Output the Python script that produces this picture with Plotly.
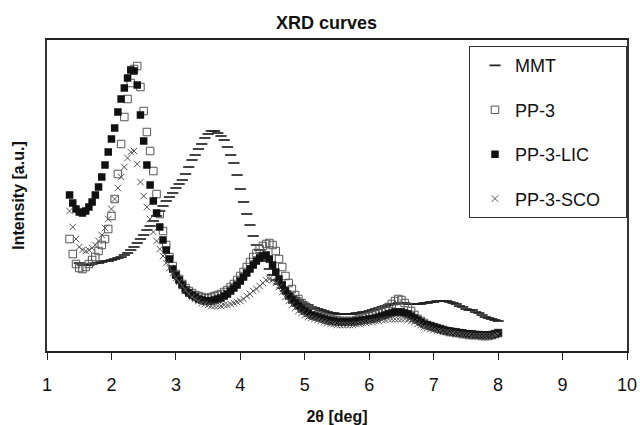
import plotly.graph_objects as go

# Scan angles (2-theta, deg)
two_theta = [
    1.35, 1.40, 1.45, 1.50, 1.55, 1.60, 1.65, 1.70, 1.75, 1.80,
    1.85, 1.90, 1.95, 2.00, 2.05, 2.10, 2.15, 2.20, 2.25, 2.30,
    2.35, 2.40, 2.45, 2.50, 2.55, 2.60, 2.65, 2.70, 2.75, 2.80,
    2.85, 2.90, 2.95, 3.00, 3.05, 3.10, 3.15, 3.20, 3.25, 3.30,
    3.35, 3.40, 3.45, 3.50, 3.55, 3.60, 3.65, 3.70, 3.75, 3.80,
    3.85, 3.90, 3.95, 4.00, 4.05, 4.10, 4.15, 4.20, 4.25, 4.30,
    4.35, 4.40, 4.45, 4.50, 4.55, 4.60, 4.65, 4.70, 4.75, 4.80,
    4.85, 4.90, 4.95, 5.00, 5.05, 5.10, 5.15, 5.20, 5.25, 5.30,
    5.35, 5.40, 5.45, 5.50, 5.55, 5.60, 5.65, 5.70, 5.75, 5.80,
    5.85, 5.90, 5.95, 6.00, 6.05, 6.10, 6.15, 6.20, 6.25, 6.30,
    6.35, 6.40, 6.45, 6.50, 6.55, 6.60, 6.65, 6.70, 6.75, 6.80,
    6.85, 6.90, 6.95, 7.00, 7.05, 7.10, 7.15, 7.20, 7.25, 7.30,
    7.35, 7.40, 7.45, 7.50, 7.55, 7.60, 7.65, 7.70, 7.75, 7.80,
    7.85, 7.90, 7.95, 8.00,
]

# MMT scan starts at 1.50 deg
mmt_theta = two_theta[3:]

mmt = [
    136, 134, 134, 134, 135, 136, 136,
    137, 138, 138, 139, 140, 141, 142, 144, 146, 149,
    152, 156, 160, 164, 169, 173, 178, 183, 188, 193,
    198, 202, 206, 211, 215, 219, 225, 232, 239, 244,
    250, 255, 261, 265, 268, 268, 266, 263, 259, 252,
    244, 236, 224, 210, 197, 185, 174, 163, 154, 149,
    146, 138, 130, 124, 119, 115, 111, 108, 105, 103,
    101, 99, 97, 95, 94, 92, 91, 90, 89, 88,
    87, 86, 86, 85, 85, 85, 85, 85, 85, 86,
    86, 87, 87, 88, 89, 90, 91, 92, 93, 94,
    95, 95, 96, 96, 96, 95, 95, 95, 95, 95,
    96, 96, 97, 97, 98, 98, 98, 98, 97, 96,
    95, 93, 92, 90, 89, 89, 87, 86, 84, 82,
    81, 80, 79, 78,
]

pp3 = [
    160, 145, 135, 131, 130, 132, 135, 139, 142, 148,
    154, 160, 170, 183, 200, 225, 255, 282, 300, 316,
    330, 333, 312, 288, 267, 248, 228, 205, 185, 168,
    154, 142, 133, 125, 120, 115, 111, 108, 106, 104,
    103, 102, 101, 101, 102, 103, 104, 105, 107, 109,
    112, 115, 119, 123, 127, 132, 137, 142, 146, 150,
    153, 155, 156, 154, 148, 140, 132, 123, 116, 110,
    104, 100, 96, 93, 90, 88, 86, 84, 83, 82,
    81, 80, 79, 79, 78, 78, 78, 78, 78, 79,
    80, 81, 82, 83, 84, 85, 87, 88, 90, 92,
    95, 98, 100, 99, 96, 92, 88, 84, 80, 78,
    76, 74, 73, 72, 71, 70, 69, 68, 67, 67,
    66, 66, 65, 65, 64, 64, 64, 64, 63, 63,
    63, 64, 65, 66,
]

pp3_lic = [
    204, 196, 190, 187, 186, 188, 192, 197, 204, 212,
    222, 234, 247, 260, 271, 287, 300, 311, 321, 329,
    328, 314, 284, 258, 234, 214, 198, 186, 172, 159,
    149, 140, 130, 124, 119, 114, 109, 106, 104, 102,
    100, 99, 98, 98, 98, 99, 100, 101, 103, 105,
    108, 111, 114, 118, 122, 126, 130, 134, 138, 141,
    143, 144, 140, 134, 127, 120, 114, 108, 103, 99,
    96, 93, 90, 88, 86, 84, 83, 82, 81, 80,
    79, 78, 78, 77, 77, 77, 77, 77, 77, 78,
    78, 79, 79, 80, 80, 81, 82, 83, 84, 85,
    86, 87, 87, 87, 86, 85, 83, 81, 79, 77,
    75, 74, 73, 72, 71, 70, 69, 68, 68, 67,
    67, 66, 66, 65, 65, 65, 64, 64, 64, 64,
    64, 64, 65, 66,
]

pp3_sco = [
    188, 172, 160, 152, 149, 148, 149, 151, 154, 158,
    164, 171, 180, 190, 200, 211, 222, 232, 241, 247,
    248, 235, 217, 203, 192, 180, 167, 158, 150, 143,
    136, 131, 126, 121, 117, 113, 109, 105, 102, 100,
    98, 96, 95, 94, 93, 93, 93, 93, 94, 94,
    95, 96, 97, 98, 100, 103, 105, 108, 110, 113,
    116, 119, 120, 119, 116, 112, 107, 102, 98, 94,
    91, 88, 86, 84, 82, 81, 80, 79, 78, 77,
    76, 75, 75, 74, 74, 74, 74, 74, 74, 75,
    75, 76, 76, 77, 77, 78, 78, 79, 79, 80,
    80, 80, 80, 80, 80, 79, 78, 77, 75, 74,
    72, 71, 70, 69, 68, 68, 67, 67, 66, 66,
    65, 65, 64, 64, 64, 63, 63, 63, 63, 63,
    63, 63, 64, 65,
]

x_ticks = [1, 2, 3, 4, 5, 6, 7, 8, 9, 10]

assert len(mmt) == len(mmt_theta)
assert len(pp3) == len(pp3_lic) == len(pp3_sco) == len(two_theta)

FONT = "Liberation Sans, Arial, sans-serif"
# trailing no-break spaces keep the legend box wider than its longest label
PAD = "\u00a0" * 4

fig = go.Figure()

fig.add_trace(go.Scatter(
    x=mmt_theta, y=mmt, mode="markers", name="MMT", legendgroup="a",
    marker=dict(symbol="line-ew", size=8, color="#222",
                line=dict(width=1.7, color="#222")),
))
fig.add_trace(go.Scatter(
    x=two_theta, y=pp3, mode="markers", name="PP-3", legendgroup="b",
    marker=dict(symbol="square-open", size=7.5, color="#555",
                line=dict(width=1, color="#555")),
))
fig.add_trace(go.Scatter(
    x=two_theta, y=pp3_lic, mode="markers", name="PP-3-LIC", legendgroup="c",
    marker=dict(symbol="square", size=7.5, color="#111",
                line=dict(width=0)),
))
fig.add_trace(go.Scatter(
    x=two_theta, y=pp3_sco, mode="markers", name="PP-3-SCO" + PAD,
    legendgroup="d",
    marker=dict(symbol="x-thin", size=6.5, color="#555",
                line=dict(width=1, color="#555")),
))

fig.update_layout(
    width=640, height=425,
    margin=dict(l=47, r=13, t=40, b=74),
    paper_bgcolor="white", plot_bgcolor="white",
    font=dict(family=FONT, size=16, color="#111"),
    title=dict(text="<b>XRD curves</b>", x=326.5 / 640, xref="container",
               y=1 - 23 / 425, yref="container", xanchor="center",
               yanchor="middle", font=dict(size=18, family=FONT)),
    showlegend=True,
    legend=dict(
        x=1.0, y=0.98, xanchor="right", yanchor="top",
        bgcolor="white", bordercolor="#333", borderwidth=1,
        font=dict(size=18, family=FONT), tracegroupgap=18,
        indentation=5,
    ),
)

fig.update_xaxes(
    range=[1, 10], tickvals=x_ticks, ticks="outside", ticklen=7,
    tickwidth=1, tickcolor="#222", showgrid=False, zeroline=False,
    showline=True, linecolor="#222", linewidth=1.5, mirror=True,
    tickfont=dict(size=18, family=FONT), ticklabelstandoff=10,
    automargin=False,
    title=dict(text="<b>2θ [deg]</b>", font=dict(size=16, family=FONT),
               standoff=19),
)
fig.update_yaxes(
    range=[48, 359], showticklabels=False, ticks="", showgrid=False,
    zeroline=False, showline=True, linecolor="#333", linewidth=1.5,
    mirror=True, automargin=False,
    title=dict(text="<b>Intensity [a.u.]</b>", font=dict(size=16, family=FONT),
               standoff=17),
)

fig.write_html("out.html")
